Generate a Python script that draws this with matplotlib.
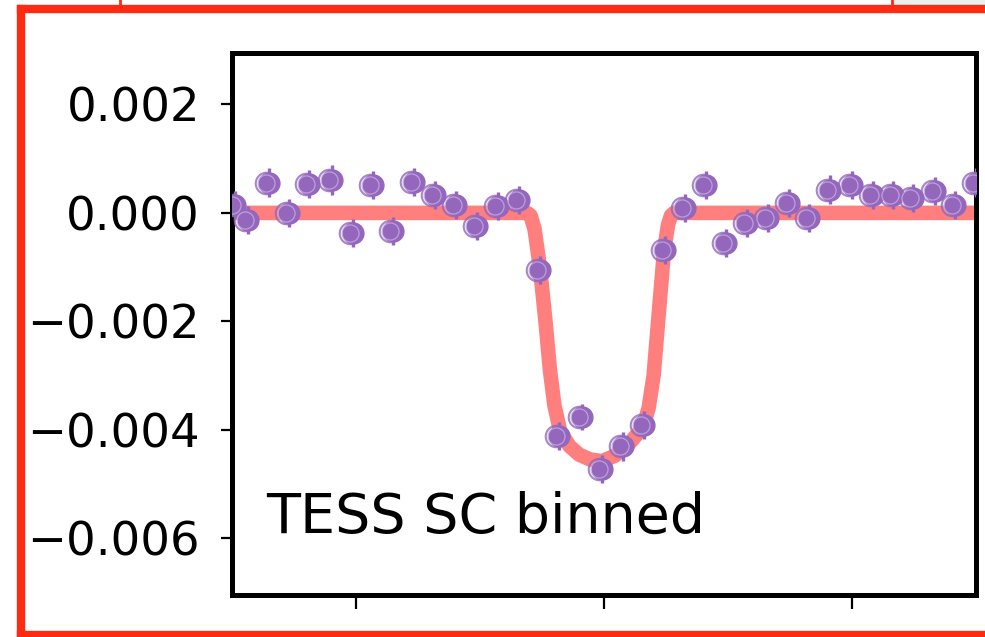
import numpy as np
import matplotlib
matplotlib.use("Agg")
import matplotlib.pyplot as plt
from matplotlib.patches import Rectangle

# =========
# data

# binned TESS short-cadence points: time from mid-transit, relative flux
t_bin = [-1.488, -1.435, -1.351, -1.270, -1.190, -1.097, -1.012, -0.931,
         -0.851, -0.766, -0.681, -0.597, -0.512, -0.427, -0.343, -0.258,
         -0.181, -0.089, -0.008, 0.077, 0.161, 0.246, 0.327, 0.411,
         0.492, 0.577, 0.661, 0.746, 0.827, 0.911, 1.000, 1.085,
         1.165, 1.246, 1.335, 1.415, 1.500]
f_bin = [0.00015, -0.00013, 0.00056, 0.00000, 0.00054, 0.00061, -0.00037, 0.00052,
         -0.00033, 0.00057, 0.00033, 0.00015, -0.00024, 0.00013, 0.00024, -0.00106,
         -0.00411, -0.00376, -0.00472, -0.00431, -0.00391, -0.00069, 0.00009, 0.00052,
         -0.00056, -0.00019, -0.00009, 0.00019, -0.00009, 0.00043, 0.00052, 0.00033,
         0.00033, 0.00028, 0.00041, 0.00015, 0.00056]
e_bin = [0.00026, 0.00026, 0.00026, 0.00026, 0.00026, 0.00028, 0.00026, 0.00026,
         0.00026, 0.00026, 0.00026, 0.00026, 0.00026, 0.00026, 0.00026, 0.00026,
         0.00026, 0.00024, 0.00026, 0.00026, 0.00026, 0.00026, 0.00026, 0.00026,
         0.00026, 0.00026, 0.00026, 0.00026, 0.00026, 0.00026, 0.00026, 0.00026,
         0.00026, 0.00026, 0.00026, 0.00026, 0.00026]

# transit model curve
t_model = [-1.5, -0.310, -0.296, -0.280, -0.258, -0.236, -0.218, -0.200,
           -0.177, -0.140, -0.100, -0.056, -0.008, 0.044, 0.097, 0.140,
           0.161, 0.180, 0.200, 0.220, 0.242, 0.258, 0.270, 0.282, 1.5]
f_model = [0.0, 0.0, -0.00005, -0.00030, -0.00102, -0.00200, -0.00290, -0.00355,
           -0.00402, -0.00430, -0.00446, -0.00455, -0.00458, -0.00448, -0.00428, -0.00405,
           -0.00390, -0.00360, -0.00300, -0.00190, -0.00070, -0.00022, -0.00005, 0.0, 0.0]

yticks = [0.002, 0.0, -0.002, -0.004, -0.006]
xticks = [-1, 0, 1]
label = "TESS SC binned"

# =========
# plot

W, H = 985, 637
fig = plt.figure(figsize=(W / 100, H / 100), dpi=100)
ax = fig.add_axes([232 / W, 1 - 595 / H, (976 - 232) / W, (595 - 53) / H])

purple = "#9467bd"
ax.plot(t_model, f_model, color="red", alpha=0.5, lw=10.5, zorder=2,
        solid_capstyle="butt", solid_joinstyle="round")
ax.errorbar(t_bin, f_bin, yerr=e_bin, fmt="o", color=purple, ms=15,
            elinewidth=2.4, capsize=0, zorder=3)
# open ring slightly offset, gives the doubled look of the markers
ax.plot(np.array(t_bin) - 0.012, f_bin, "o", ms=15.5, mfc="none",
        mec=purple, mew=1.5, alpha=0.8, zorder=4)
ax.plot(np.array(t_bin) - 0.012, f_bin, "o", ms=12.3, mfc="none",
        mec="#c4aee3", mew=0.9, alpha=0.8, zorder=5)

ax.set_xlim(-1.5, 1.5)
ax.set_ylim(-0.00705, 0.00295)
ax.set_xticks(xticks)
ax.set_xticklabels([])
ax.set_yticks(yticks)
ax.set_yticklabels(["0.002", "0.000", "\u22120.002", "\u22120.004", "\u22120.006"])
ax.tick_params(axis="y", labelsize=33.5, length=8, width=1.6, pad=15)
ax.tick_params(axis="x", length=10, width=1.6)
for sp in ax.spines.values():
    sp.set_linewidth(3.6)

ax.text(0.046, 0.142, label, transform=ax.transAxes, fontsize=40,
        ha="left", va="center")

# red annotation frame around the panel
red = "#ff2a12"
fig.add_artist(plt.Line2D([21 / W, 21 / W], [1 - 9 / H, -0.01], color=red, lw=6,
                          transform=fig.transFigure, solid_capstyle="projecting"))
fig.add_artist(plt.Line2D([21 / W, 1.01], [1 - 9 / H, 1 - 9 / H], color=red, lw=6,
                          transform=fig.transFigure))
fig.add_artist(plt.Line2D([21 / W, 1.01], [1 - 635 / H, 1 - 635 / H], color=red, lw=6,
                          transform=fig.transFigure))
fig.patches.append(Rectangle((893 / W, 1 - 5 / H), (W - 893) / W, 5 / H,
                             transform=fig.transFigure, color="#eeeeee", lw=0))
fig.add_artist(plt.Line2D([120 / W, 120 / W], [1, 1 - 9 / H], color=red, lw=2,
                          transform=fig.transFigure))
fig.add_artist(plt.Line2D([892 / W, 892 / W], [1, 1 - 9 / H], color=red, lw=2,
                          transform=fig.transFigure))

fig.savefig("out.png", dpi=100)
